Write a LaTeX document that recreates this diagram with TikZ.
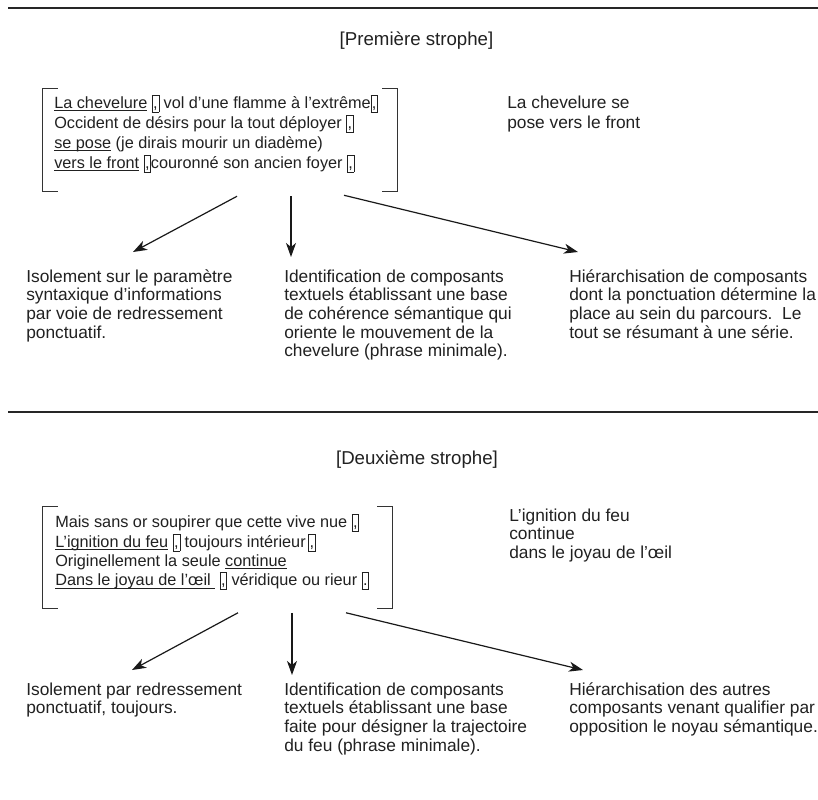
\documentclass[tikz,border=0pt]{standalone}
\usepackage{fontspec}
\setmainfont{Liberation Sans}
\usetikzlibrary{arrows.meta,calc}
\newcommand\cb[1][,]{{\fboxsep=0pt\fboxrule=0.4pt\fbox{\rule[-2.6pt]{0pt}{12.3pt}\makebox[4.6pt][c]{#1}}}}
\newcommand\uln[1]{{\setbox0\hbox{#1}\rlap{\rule[-1.9pt]{\wd0}{0.5pt}}\box0}}
\begin{document}
\begin{tikzpicture}[x=0.75pt,y=-0.75pt,
  hrule/.style={line width=1pt, draw=black!85},
  brk/.style={line width=0.8pt, draw=black!80},
  arr/.style={-{Stealth[length=10.5pt,width=7.5pt,inset=3pt]}, line width=0.9pt, draw=black!90},
  hdr/.style={inner sep=0pt, font=\fontsize{14}{16}\selectfont, text=black!87},
  txt/.style={anchor=north west, inner sep=0pt, align=left, font=\fontsize{13}{14}\selectfont, text=black!87},
  verse/.style={anchor=north west, inner sep=0pt, align=left, font=\fontsize{12.2}{15}\selectfont, text=black!87},
  boxframe/.style={inner sep=0pt}
]
\fill[white] (0,0) rectangle (818,800);
\useasboundingbox (0,0) rectangle (818,800);

% ---------- first stanza ----------
\draw[hrule] (8,8) -- (818,8);
\node[hdr] (h1) at (416.5,41) {[Première strophe]};

\node[boxframe, minimum width=265.5pt, minimum height=76.5pt] (box1) at (220,140) {};
\draw[brk] ($(box1.north west)+(15,0)$) -- (box1.north west) -- (box1.south west) -- ($(box1.south west)+(15,0)$);
\draw[brk] ($(box1.north east)+(-15,0)$) -- (box1.north east) -- (box1.south east) -- ($(box1.south east)+(-15,0)$);

\node[verse] (st1) at (54,94) {\strut\uln{La chevelure} \cb\ vol d’une flamme à l’extrême\cb\\
Occident de désirs pour la tout déployer \cb\\
\uln{se pose} (je dirais mourir un diadème)\\
\uln{vers le front} \cb couronné son ancien foyer \cb};

\node[txt, font=\fontsize{13}{15}\selectfont] (r1) at (507,94) {\strut La chevelure se\\pose vers le front};

\node[txt] (iso1) at (26,268.9) {\strut Isolement sur le paramètre\\syntaxique d’informations\\par voie de redressement\\ponctuatif.};
\node[txt] (mid1) at (284,268.9) {\strut Identification de composants\\textuels établissant une base\\de cohérence sémantique qui\\oriente le mouvement de la\\chevelure (phrase minimale).};
\node[txt] (hie1) at (569,268.9) {\strut Hiérarchisation de composants\\dont la ponctuation détermine la\\place au sein du parcours.\ \ Le\\tout se résumant à une série.};

\coordinate (s1a) at ($(box1.south)+(17,5)$);
\coordinate (s1b) at ($(box1.south)+(71,5)$);
\coordinate (s1c) at ($(box1.south)+(124,4)$);
\coordinate (e1a) at (133,252);
\coordinate (e1b) at (291,257);
\coordinate (e1c) at (578,252);
\draw[arr] (s1a) -- (e1a);
\draw[arr] (s1b) -- (e1b);
\draw[arr] (s1c) -- (e1c);

% ---------- second stanza ----------
\draw[hrule] (8,412) -- (818,412);
\node[hdr] (h2) at (417,460) {[Deuxième strophe]};

\node[boxframe, minimum width=261.75pt, minimum height=75.75pt] (box2) at (217.5,557.5) {};
\draw[brk] ($(box2.north west)+(15,0)$) -- (box2.north west) -- (box2.south west) -- ($(box2.south west)+(15,0)$);
\draw[brk] ($(box2.north east)+(-15,0)$) -- (box2.north east) -- (box2.south east) -- ($(box2.south east)+(-15,0)$);

\node[verse, font=\fontsize{12.2}{14.5}\selectfont] (st2) at (55,514) {\strut Mais sans or soupirer que cette vive nue \cb\\
\uln{L’ignition du feu} \cb\ toujours intérieur\,\cb\\
Originellement la seule \uln{continue}\\
\uln{Dans le joyau de l’œil\ } \cb\ véridique ou rieur \cb[.]};

\node[txt] (r2) at (509,507.9) {\strut L’ignition du feu\\continue\\dans le joyau de l’œil};

\node[txt] (iso2) at (26,681.9) {\strut Isolement par redressement\\ponctuatif, toujours.};
\node[txt] (mid2) at (284,681.9) {\strut Identification de composants\\textuels établissant une base\\faite pour désigner la trajectoire\\du feu (phrase minimale).};
\node[txt] (hie2) at (569,681.9) {\strut Hiérarchisation des autres\\composants venant qualifier par\\opposition le noyau sémantique.};

\coordinate (s2a) at ($(box2.south)+(20.5,4.5)$);
\coordinate (s2b) at ($(box2.south)+(74.5,4.5)$);
\coordinate (s2c) at ($(box2.south)+(128.5,4.5)$);
\coordinate (e2a) at (132,670);
\coordinate (e2b) at (292,675);
\coordinate (e2c) at (583,670);
\draw[arr] (s2a) -- (e2a);
\draw[arr] (s2b) -- (e2b);
\draw[arr] (s2c) -- (e2c);
\end{tikzpicture}
\end{document}
